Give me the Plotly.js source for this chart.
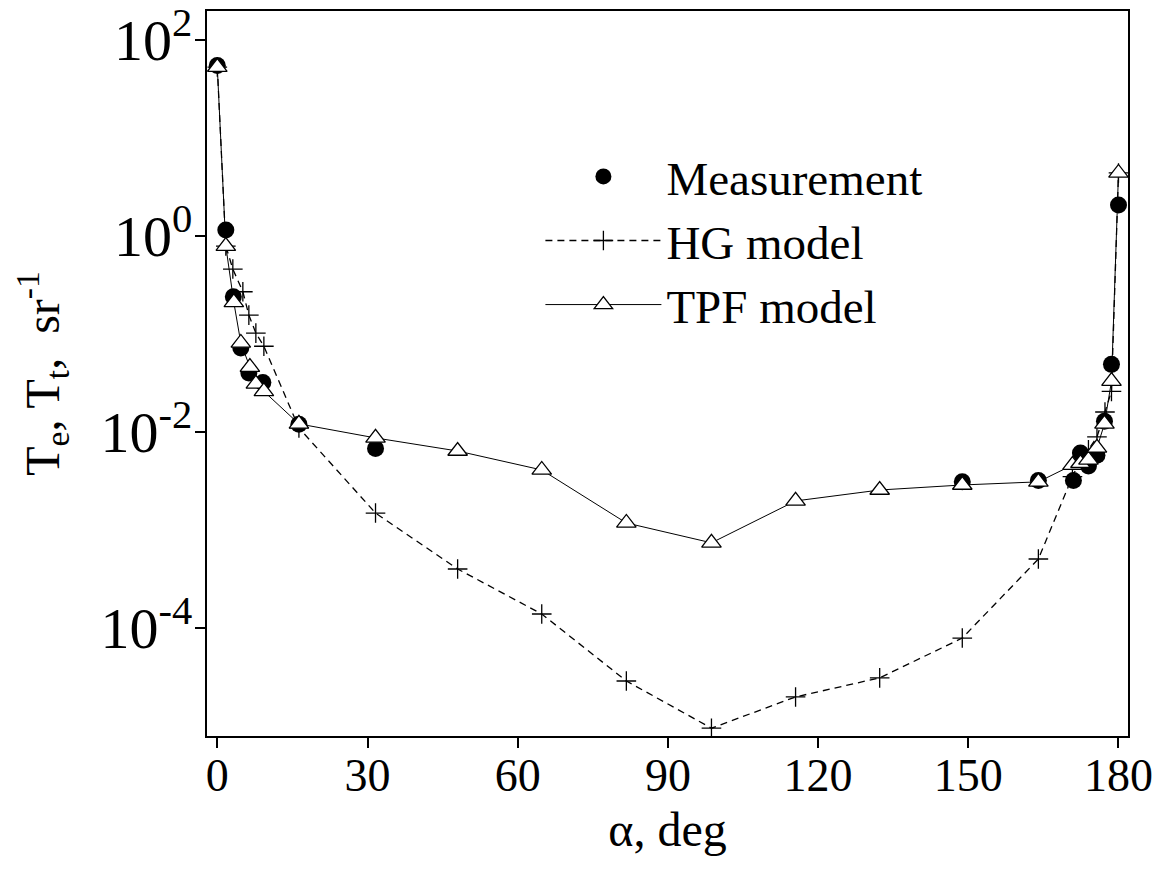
<!DOCTYPE html>
<html>
<head>
<meta charset="utf-8">
<script src="https://cdn.plot.ly/plotly-3.0.1.min.js"></script>
<style>html,body{margin:0;padding:0;background:#fff;}#chart{width:1167px;height:869px;}</style>
</head>
<body>
<div id="chart"></div>
<script>
// Measurement (filled circles)
const angleMeas = [0, 1.7, 3.2, 4.7, 6.3, 9.1, 16.3, 31.6, 148.8, 164, 171, 172.4, 174, 175.7, 177.2, 178.6, 180];
const valMeas   = [55, 1.15, 0.24, 0.072, 0.040, 0.032, 0.012, 0.0068, 0.0031, 0.0032, 0.0032, 0.0061, 0.0045, 0.0058, 0.0129, 0.049, 2.07];

// HG model (plus, dashed)
const angleHG = [0, 1.7, 3.1, 5.1, 6.3, 7.7, 9.3, 16.3, 31.6, 48, 64.8, 81.7, 98.7, 115.5, 132.3, 148.8, 164, 170.8, 172.4, 174, 175.7, 177.3, 178.6, 180];
const valHG   = [53, 0.79, 0.46, 0.27, 0.156, 0.102, 0.075, 0.011, 0.00149, 0.0004, 0.000139, 2.88e-5, 9.5e-6, 1.98e-5, 3.1e-5, 7.9e-5, 5.06e-4, 0.0035, 0.0052, 0.0066, 0.0089, 0.016, 0.026, 4.4];

// TPF model (open triangles, solid)
const angleTPF = [0, 1.7, 3.3, 4.7, 6.5, 7.7, 9.3, 16.3, 31.6, 48, 64.8, 81.7, 98.7, 115.5, 132.3, 148.8, 164, 170.8, 172.4, 174, 175.7, 177.2, 178.6, 180];
const valTPF   = [53, 0.79, 0.21, 0.081, 0.046, 0.031, 0.026, 0.0121, 0.0087, 0.0064, 0.0041, 0.00118, 0.00074, 0.00198, 0.00256, 0.00288, 0.0031, 0.0046, 0.0048, 0.0052, 0.0069, 0.0121, 0.033, 4.4];

// Axis ticks
const xMajor = [0, 30, 60, 90, 120, 150, 180];
const xMinor = [15, 45, 75, 105, 135, 165];
const yLabelled = [1e2, 1e0, 1e-2, 1e-4];
const yLabelText = ['10<sup>2</sup>', '10<sup>0</sup>', '10<sup>-2</sup>', '10<sup>-4</sup>'];
const yOddDecades = [1e1, 1e-1, 1e-3, 1e-5];
const yMinorExp = [1.82, 1.51, 0.82, 0.51, -0.18, -0.49, -1.18, -1.49, -2.18, -2.49, -3.18, -3.49, -4.18, -4.49];
const yMinor = yMinorExp.map(e => Math.pow(10, e));

const FONT = 'Liberation Serif, Times New Roman, serif';
const xRange = [-2.06, 181.9];
const yRange = [-5.102, 2.296];

const traces = [
  {x: angleMeas, y: valMeas, name: 'Measurement', mode: 'markers', type: 'scatter',
   marker: {symbol: 'circle', size: 17, color: '#000'}},
  {x: angleHG, y: valHG, name: 'HG model', mode: 'lines+markers', type: 'scatter',
   line: {color: '#000', width: 1.3, dash: '7px,5px'},
   marker: {symbol: 'cross-thin', size: 14, line: {color: '#000', width: 1.3}}},
  {x: angleTPF, y: valTPF, name: 'TPF model', mode: 'lines+markers', type: 'scatter',
   line: {color: '#000', width: 1},
   marker: {symbol: 'triangle-up', size: 17, color: '#fff', line: {color: '#000', width: 1.3}}}
];

const tickOnly = (extra) => Object.assign({showgrid: false, zeroline: false, showline: false, showticklabels: false,
  tickmode: 'array', tickwidth: 2, tickcolor: '#000'}, extra);

const layout = {
  width: 1167, height: 869,
  margin: {l: 207, r: 39, t: 11, b: 133, pad: 0},
  paper_bgcolor: '#fff', plot_bgcolor: '#fff',
  font: {family: FONT, color: '#000'},
  showlegend: true,
  legend: {x: 0.362, y: 0.823, xanchor: 'left', yanchor: 'top', bgcolor: 'rgba(0,0,0,0)',
           font: {family: FONT, size: 47, color: '#000'}, itemwidth: 116, tracegroupgap: 0},
  xaxis: {range: xRange, showgrid: false, zeroline: false, showline: true, linewidth: 2, linecolor: '#000',
          mirror: true, tickmode: 'array', tickvals: xMajor, ticktext: xMajor.map(String),
          ticks: 'outside', ticklen: 10, tickwidth: 2, tickcolor: '#000', ticklabelstandoff: -12,
          ticklabeloverflow: 'allow',
          tickfont: {family: FONT, size: 46, color: '#000'},
          title: {text: 'α, deg', font: {family: FONT, size: 48, color: '#000'}, standoff: 12}},
  yaxis: {type: 'log', range: yRange, showgrid: false, zeroline: false, showline: true, linewidth: 2, linecolor: '#000',
          mirror: true, tickmode: 'array', tickvals: yLabelled, ticktext: yLabelText,
          ticks: 'outside', ticklen: 10, tickwidth: 2, tickcolor: '#000', ticklabelstandoff: -9,
          ticklabeloverflow: 'allow',
          tickfont: {family: FONT, size: 58, color: '#000'},
          title: {text: 'T<sub>e</sub>, T<sub>t</sub>,  sr<sup>-1</sup>', font: {family: FONT, size: 48, color: '#000'}, standoff: 26}},
  xaxis3: tickOnly({overlaying: 'x', anchor: 'y', side: 'bottom', range: xRange, tickvals: xMinor, ticks: 'outside', ticklen: 5}),
  yaxis3: tickOnly({overlaying: 'y', anchor: 'x', side: 'left', type: 'log', range: yRange, tickvals: yOddDecades, ticks: 'outside', ticklen: 10}),
  yaxis4: tickOnly({overlaying: 'y', anchor: 'x', side: 'left', type: 'log', range: yRange, tickvals: yMinor, ticks: 'outside', ticklen: 5}),
  xaxis2: tickOnly({overlaying: 'x', anchor: 'y', side: 'top', range: xRange, tickvals: xMajor.concat(xMinor), ticks: 'inside', ticklen: 3}),
  yaxis2: tickOnly({overlaying: 'y', anchor: 'x', side: 'right', type: 'log', range: yRange,
           tickvals: yLabelled.concat(yOddDecades, yMinor), ticks: 'inside', ticklen: 3})
};

Plotly.newPlot('chart', traces, layout, {displayModeBar: false, staticPlot: true});
</script>
</body>
</html>
